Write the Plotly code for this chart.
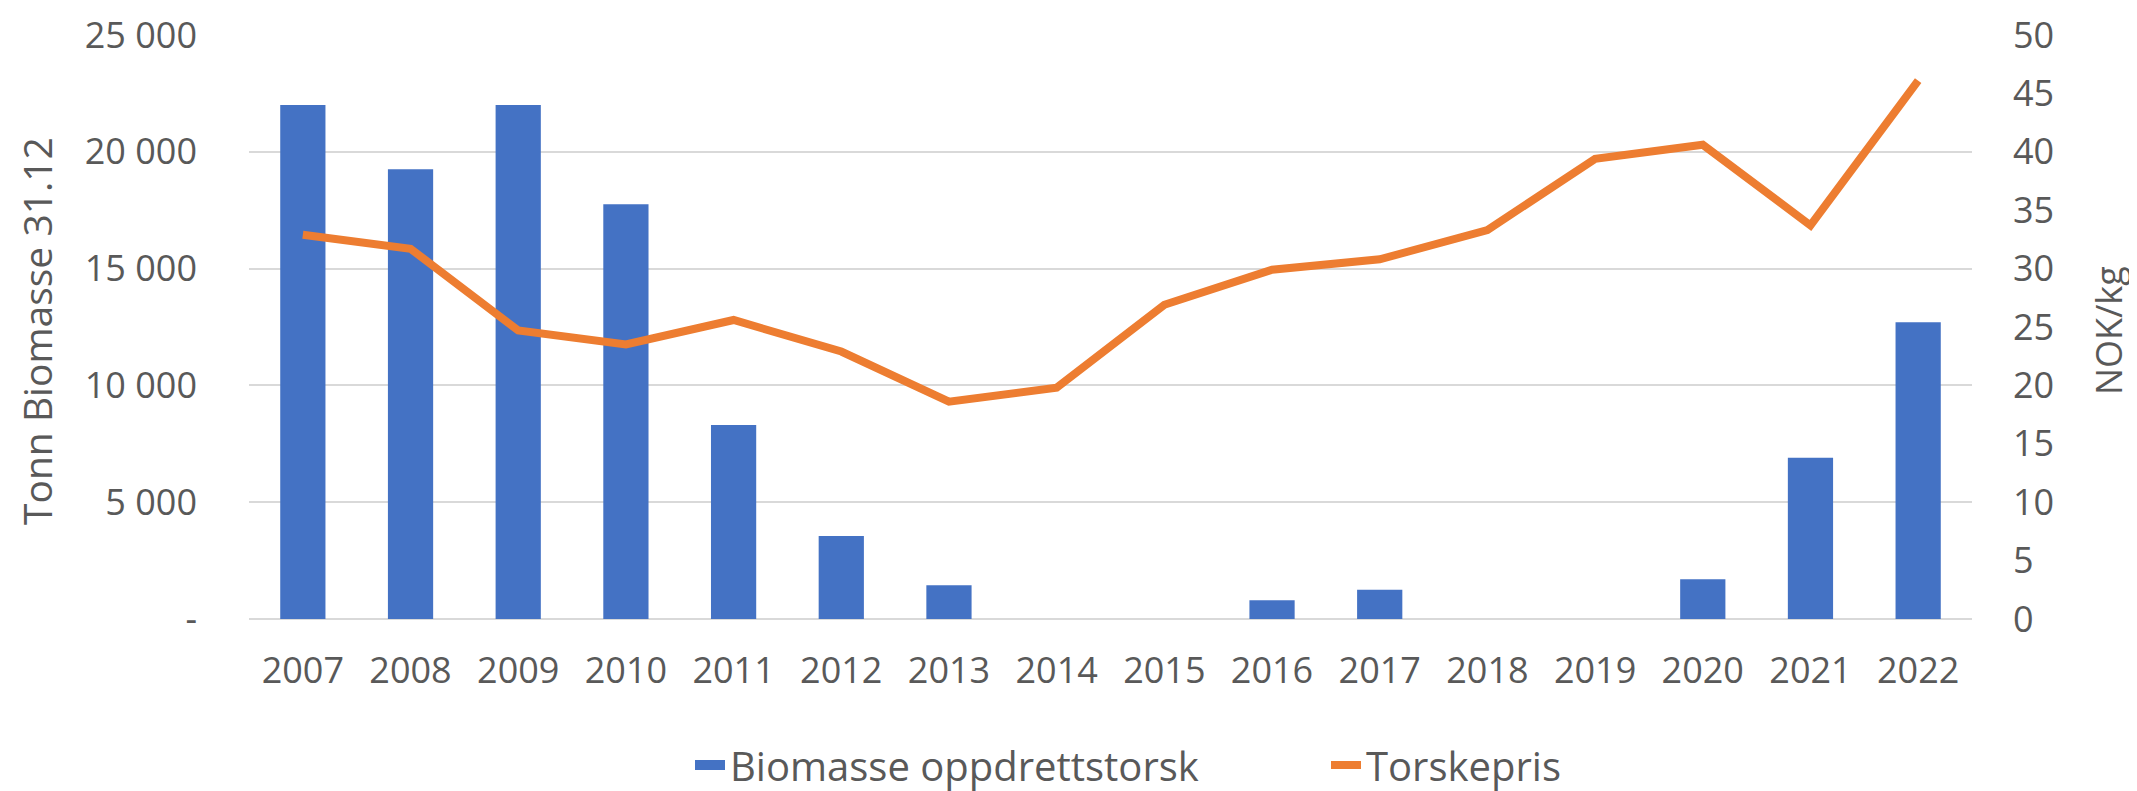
import plotly.graph_objects as go

years = ["2007", "2008", "2009", "2010", "2011", "2012", "2013", "2014",
         "2015", "2016", "2017", "2018", "2019", "2020", "2021", "2022"]
biomasse = [22000, 19250, 22000, 17750, 8300, 3550, 1450, 0,
            0, 800, 1250, 0, 0, 1700, 6900, 12700]
torskepris = [32.9, 31.7, 24.7, 23.5, 25.6, 22.9, 18.6, 19.8,
              26.9, 29.9, 30.8, 33.3, 39.4, 40.6, 33.7, 46.1]

left_tickvals = [0, 5000, 10000, 15000, 20000, 25000]
left_ticktext = ["-", "5 000", "10 000", "15 000", "20 000", "25 000"]
right_tickvals = [0, 5, 10, 15, 20, 25, 30, 35, 40, 45, 50]

FONT = "Open Sans"
GREY = "#595959"
BLUE = "#4472C4"
ORANGE = "#ED7D31"

PLOT_L, PLOT_R, PLOT_T, PLOT_B = 241, 1964, 27, 611
PW = PLOT_R - PLOT_L
PH = PLOT_B - PLOT_T

fig = go.Figure()
fig.add_trace(go.Bar(x=years, y=biomasse, name="Biomasse oppdrettstorsk",
                     marker=dict(color=BLUE, line=dict(width=0)), yaxis="y",
                     showlegend=False))
# legend entry drawn as a wide block, like the reference
fig.add_trace(go.Scatter(x=[None], y=[None], name="Biomasse oppdrettstorsk", mode="lines",
                         line=dict(color=BLUE, width=28), showlegend=True))
fig.add_trace(go.Scatter(x=years, y=torskepris, name="Torskepris", mode="lines",
                         line=dict(color=ORANGE, width=8), yaxis="y2"))

fig.update_layout(
    width=2137, height=791,
    margin=dict(l=PLOT_L, r=2137 - PLOT_R, t=PLOT_T, b=791 - PLOT_B, autoexpand=False),
    paper_bgcolor="white", plot_bgcolor="white",
    font=dict(family=FONT, size=36, color=GREY),
    bargap=0.58,
    showlegend=True,
    legend=dict(orientation="h", x=(682 - PLOT_L) / PW, xanchor="left", yref="container",
                y=0.043, yanchor="middle", font=dict(size=40, color=GREY),
                entrywidth=591, entrywidthmode="pixels"),
    xaxis=dict(type="category", showgrid=False, showline=False, ticks="",
               tickfont=dict(size=36, color=GREY), ticklabelstandoff=27, automargin=False),
    yaxis=dict(range=[0, 25000], tickvals=left_tickvals, ticktext=left_ticktext,
               showgrid=True, gridcolor="#D9D9D9", gridwidth=2, zeroline=True,
               zerolinecolor="#D9D9D9", zerolinewidth=2, showline=False, ticks="",
               tickfont=dict(size=36, color=GREY), ticklabelstandoff=51,
               ticklabeloverflow="allow", automargin=False),
    yaxis2=dict(range=[0, 50], tickvals=right_tickvals, overlaying="y", side="right",
                showgrid=False, zeroline=False, showline=False, ticks="",
                tickfont=dict(size=36, color=GREY), ticklabelstandoff=40,
                ticklabeloverflow="allow", automargin=False),
    annotations=[
        dict(text="Tonn Biomasse 31.12", xref="paper", yref="paper",
             x=(28 - PLOT_L) / PW, y=(PLOT_B - 323) / PH, textangle=-90, showarrow=False,
             font=dict(size=39, color=GREY), xanchor="center", yanchor="middle"),
        dict(text="NOK/kg", xref="paper", yref="paper",
             x=(2100 - PLOT_L) / PW, y=(PLOT_B - 323) / PH, textangle=-90, showarrow=False,
             font=dict(size=36, color=GREY), xanchor="center", yanchor="middle"),
    ],
)

fig.write_html("out.html")
